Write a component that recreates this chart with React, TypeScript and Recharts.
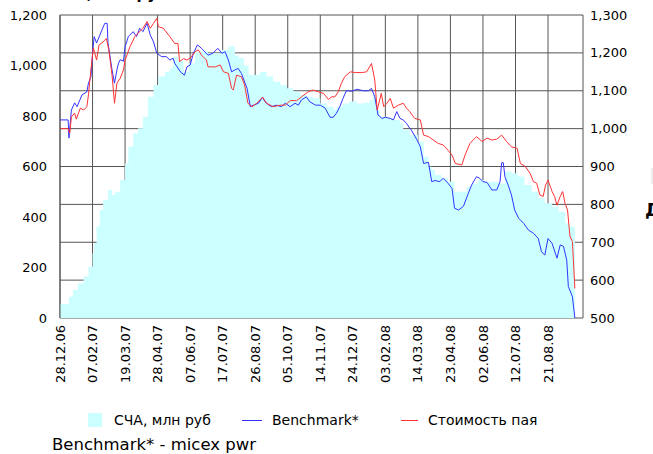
import React from 'react';
import { ComposedChart, Area, Line, XAxis, YAxis, CartesianGrid } from 'recharts';

// day offset from 28.12.06 -> value
const navPoints: [number, number][] = [
  [0, 55], [11, 84], [16, 111], [22, 137], [29, 164], [35, 203], [40, 256], [42, 296], [45, 362], [49, 428],
  [53, 467], [59, 507], [64, 487], [68, 500], [74, 547], [80, 612], [84, 678], [90, 731], [96, 751], [102, 797],
  [108, 876], [115, 923], [121, 956], [129, 975], [135, 989], [139, 1035], [145, 1020], [152, 975], [158, 1009],
  [166, 1055], [174, 1055], [182, 1049], [190, 1049], [199, 1061], [207, 1075], [215, 1040], [220, 1030],
  [226, 1000], [232, 962], [240, 962], [246, 975], [254, 956], [262, 936], [271, 923], [279, 910], [287, 896],
  [295, 883], [303, 876], [311, 870], [320, 850], [328, 837], [336, 824], [340, 837], [348, 850], [356, 857],
  [365, 850], [373, 852], [381, 863], [385, 883], [389, 824], [393, 797], [402, 790], [410, 784], [418, 771],
  [422, 745], [430, 725], [440, 698], [447, 639], [453, 599], [457, 586], [461, 566], [469, 553], [477, 540],
  [485, 500], [494, 500], [500, 520], [506, 533], [514, 547], [522, 540], [531, 540], [539, 533], [547, 580],
  [555, 573], [563, 560], [571, 527], [580, 500], [588, 474], [596, 454], [605, 441], [613, 421], [621, 375],
  [627, 362], [633, 345],
];

const benchmarkPoints: [number, number][] = [
  [0, 1023], [10, 1023], [11, 975], [14, 1049], [18, 1068], [21, 1058], [27, 1089], [33, 1097], [35, 1120],
  [38, 1137], [40, 1199], [42, 1243], [45, 1226], [49, 1247], [55, 1278], [58, 1278], [59, 1226], [64, 1155],
  [67, 1120], [70, 1155], [72, 1173], [74, 1182], [78, 1178], [80, 1216], [84, 1243], [90, 1256], [94, 1243],
  [98, 1265], [102, 1256], [107, 1278], [111, 1247], [115, 1229], [119, 1199], [125, 1190], [131, 1190],
  [135, 1181], [139, 1186], [141, 1173], [148, 1150], [153, 1141], [156, 1163], [160, 1168], [164, 1199],
  [169, 1221], [174, 1212], [182, 1194], [188, 1199], [194, 1212], [199, 1199], [203, 1203], [207, 1181],
  [211, 1150], [215, 1155], [219, 1159], [223, 1146], [230, 1106], [234, 1058], [238, 1062], [244, 1067],
  [249, 1083], [252, 1071], [257, 1062], [260, 1058], [266, 1062], [272, 1058], [277, 1067], [283, 1058],
  [289, 1067], [293, 1062], [297, 1076], [303, 1084], [307, 1071], [314, 1062], [320, 1062], [326, 1054],
  [332, 1030], [336, 1030], [340, 1041], [344, 1058], [348, 1080], [352, 1100], [359, 1099], [365, 1104],
  [373, 1100], [379, 1100], [383, 1106], [387, 1084], [391, 1036], [396, 1027], [400, 1030], [406, 1027],
  [410, 1023], [414, 1045], [418, 1027], [422, 1023], [426, 1014], [430, 1001], [432, 996], [439, 970],
  [443, 952], [447, 908], [453, 911], [457, 860], [461, 863], [467, 860], [471, 869], [477, 856], [482, 842],
  [485, 790], [490, 785], [496, 795], [502, 829], [506, 851], [512, 873], [516, 869], [520, 860], [525, 858],
  [531, 838], [537, 838], [541, 860], [543, 910], [545, 910], [547, 873], [551, 851], [555, 825], [559, 785],
  [564, 763], [570, 750], [576, 732], [582, 724], [588, 710], [592, 675], [596, 666], [600, 710], [605, 697],
  [611, 658], [615, 693], [619, 689], [623, 653], [625, 583], [630, 556], [633, 500],
];

const unitPricePoints: [number, number][] = [
  [0, 1000], [10, 1000], [12, 988], [14, 1031], [18, 1041], [20, 1025], [25, 1054], [29, 1049], [33, 1058],
  [35, 1089], [38, 1155], [41, 1213], [45, 1181], [48, 1221], [53, 1229], [57, 1238], [60, 1208], [64, 1141],
  [67, 1067], [70, 1120], [74, 1133], [78, 1155], [80, 1181], [86, 1216], [92, 1243], [96, 1252], [102, 1265],
  [107, 1283], [111, 1265], [115, 1278], [119, 1291], [121, 1269], [127, 1265], [135, 1243], [141, 1225],
  [145, 1225], [147, 1177], [152, 1185], [156, 1181], [160, 1186], [166, 1203], [170, 1208], [174, 1194],
  [180, 1181], [182, 1163], [191, 1163], [197, 1168], [201, 1150], [207, 1146], [211, 1106], [213, 1102],
  [217, 1141], [223, 1137], [227, 1115], [231, 1067], [236, 1058], [242, 1067], [249, 1083], [254, 1067],
  [262, 1058], [271, 1062], [277, 1062], [283, 1074], [291, 1074], [297, 1084], [305, 1097], [311, 1102],
  [318, 1097], [324, 1093], [330, 1077], [334, 1084], [338, 1084], [342, 1097], [346, 1120], [350, 1137],
  [357, 1150], [363, 1148], [371, 1148], [377, 1150], [383, 1172], [387, 1128], [390, 1049], [395, 1093],
  [398, 1058], [402, 1067], [406, 1080], [410, 1054], [416, 1062], [422, 1067], [426, 1054], [430, 1045],
  [436, 1027], [443, 1023], [447, 983], [453, 979], [459, 970], [465, 961], [471, 957], [477, 943], [482, 930],
  [486, 908], [494, 904], [498, 930], [504, 961], [512, 979], [519, 966], [525, 975], [531, 970], [537, 972],
  [543, 983], [549, 966], [555, 952], [562, 948], [566, 908], [572, 900], [578, 882], [582, 860], [586, 856],
  [590, 825], [594, 821], [597, 851], [600, 864], [605, 834], [608, 821], [611, 798], [615, 821], [618, 834],
  [621, 802], [624, 785], [627, 715], [630, 702], [633, 578],
];

const dateLabels = [
  '28.12.06', '07.02.07', '19.03.07', '28.04.07', '07.06.07', '17.07.07', '26.08.07', '05.10.07',
  '14.11.07', '24.12.07', '03.02.08', '14.03.08', '23.04.08', '02.06.08', '12.07.08', '21.08.08',
];
const TICK_STEP = 40;
const leftTicks = [0, 200, 400, 600, 800, 1000, 1200];
const rightTicks = [500, 600, 700, 800, 900, 1000, 1100, 1200, 1300];

// merge the three series into one table keyed by day
const rows: Record<number, any> = {};
const put = (pts: [number, number][], key: string) =>
  pts.forEach(([d, v]) => {
    rows[d] = rows[d] || { d };
    rows[d][key] = v;
  });
put(navPoints, 'nav');
put(benchmarkPoints, 'bench');
put(unitPricePoints, 'price');
const data = Object.values(rows).sort((a, b) => a.d - b.d);

const FONT = '"DejaVu Sans", Verdana, sans-serif';
const CYAN = '#CCFFFF';
const BLUE = '#3333FF';
const RED = '#FF3333';

const DateTick = ({ x, y, payload }: any) => {
  const ty = y + 7;
  return (
    <text
      x={x}
      y={ty}
      transform={`rotate(-90 ${x} ${ty})`}
      textAnchor="end"
      dy="0.35em"
      fontSize={13}
      fontFamily={FONT}
      fill="#000"
    >
      {dateLabels[Math.round(payload.value / TICK_STEP)]}
    </text>
  );
};

const fmt = (v: number) => v.toLocaleString('en-US');

export default function App() {
  return (
    <div style={{ position: 'absolute', left: 0, top: 0, width: 653, height: 454, overflow: 'hidden', background: '#fff', fontFamily: FONT }}>
      <ComposedChart width={653} height={400} data={data} margin={{ top: 15, right: 0, bottom: 0, left: 0 }}>
        <CartesianGrid yAxisId="right" stroke="#555" strokeWidth={1} ticks={rightTicks} />
        <XAxis
          dataKey="d"
          type="number"
          domain={[0, 643]}
          ticks={dateLabels.map((_, i) => i * TICK_STEP)}
          interval={0}
          height={82}
          axisLine={false}
          tickLine={false}
          tickSize={0}
          tickMargin={0}
          tick={<DateTick />}
        />
        <YAxis
          yAxisId="left"
          orientation="left"
          width={60}
          domain={[0, 1200]}
          ticks={leftTicks}
          interval={0}
          axisLine={{ stroke: '#555' }}
          tickLine={false}
          tickSize={0}
          tickMargin={13}
          tickFormatter={fmt}
          tick={{ fontSize: 13, fontFamily: FONT, fill: '#000' }}
        />
        <YAxis
          yAxisId="right"
          orientation="right"
          width={70}
          domain={[500, 1300]}
          ticks={rightTicks}
          interval={0}
          axisLine={false}
          tickLine={false}
          tickSize={0}
          tickMargin={7}
          tickFormatter={fmt}
          tick={{ fontSize: 13, fontFamily: FONT, fill: '#000' }}
        />
        <Area
          yAxisId="left"
          dataKey="nav"
          type="stepAfter"
          stroke="none"
          fill={CYAN}
          fillOpacity={1}
          connectNulls
          isAnimationActive={false}
        />
        <Line yAxisId="right" dataKey="bench" type="linear" stroke={BLUE} strokeWidth={1} dot={false} connectNulls isAnimationActive={false} />
        <Line yAxisId="right" dataKey="price" type="linear" stroke={RED} strokeWidth={1} dot={false} connectNulls isAnimationActive={false} />
      </ComposedChart>

      <svg width={653} height={454} style={{ position: 'absolute', left: 0, top: 0, pointerEvents: 'none' }} fontFamily={FONT}>
        {/* title above the chart, cut off by the top edge as in the source */}
        <text x={52} y={-1} fontSize={15} fontWeight="bold" fill="#000">СЧА, млн руб</text>
        {/* legend */}
        <rect x={88} y={413} width={14} height={14} fill={CYAN} />
        <text x={114} y={420} dy="0.35em" fontSize={14} fill="#000">СЧА, млн руб</text>
        <line x1={242} x2={262} y1={420.5} y2={420.5} stroke={BLUE} strokeWidth={1} />
        <text x={272} y={420} dy="0.35em" fontSize={14} fill="#000">Benchmark*</text>
        <line x1={401} x2={418} y1={420.5} y2={420.5} stroke={RED} strokeWidth={1} />
        <text x={428} y={420} dy="0.35em" fontSize={14} fill="#000">Стоимость пая</text>
        <text x={52} y={450} fontSize={16.5} fill="#000">Benchmark* - micex pwr</text>
        {/* neighbouring block, cut at the right edge as in the source */}
        <rect x={651} y={168} width={10} height={16} fill="#eeeeee" />
        <text x={645} y={216} fontSize={18} fontWeight="bold" fill="#000">Д</text>
      </svg>
    </div>
  );
}
